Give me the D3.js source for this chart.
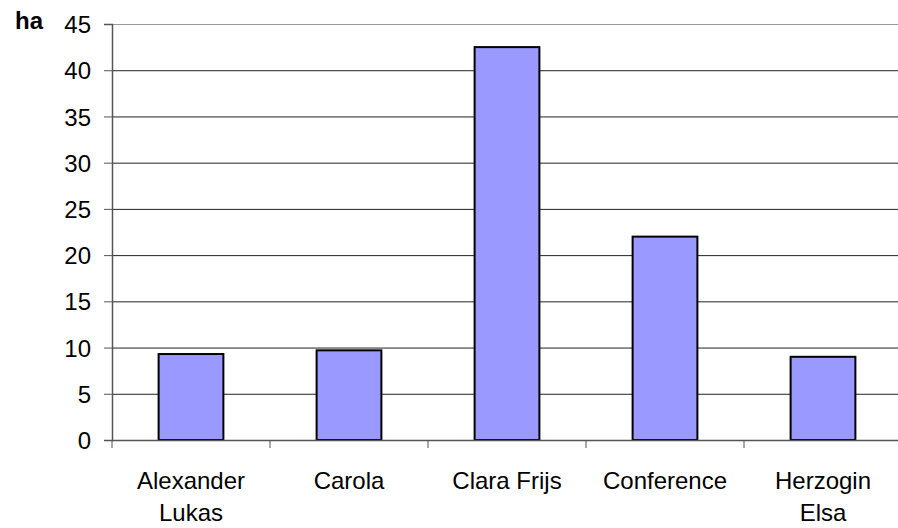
<!DOCTYPE html>
<html><head><meta charset="utf-8">
<script src="https://cdn.jsdelivr.net/npm/d3@7"></script>
<style>body{margin:0;background:#fff}svg{display:block}text{font-family:"Liberation Sans",Arial,sans-serif}</style>
</head><body>
<svg id="c" width="898" height="528"></svg>
<script>
const categories = [["Alexander","Lukas"],["Carola"],["Clara Frijs"],["Conference"],["Herzogin","Elsa"]];
const values = [9.3, 9.7, 42.5, 22.0, 9.0];
const yTicks = [0,5,10,15,20,25,30,35,40,45];

const svg = d3.select("#c");
const L = 112, R = 902, T = 24, B = 440;
const x = d3.scaleBand().domain(d3.range(categories.length)).range([L, R]).paddingInner(0.59).paddingOuter(0.295);
const xc = d3.scaleBand().domain(d3.range(categories.length)).range([L, R]);
const y = d3.scaleLinear().domain([0,45]).range([B, T]);

// gridlines
svg.append("g").selectAll("line").data(yTicks.filter(d=>d>0)).join("line")
  .attr("x1", L).attr("x2", 898).attr("y1", d=>y(d)+0.5).attr("y2", d=>y(d)+0.5)
  .attr("stroke", d=> d===45 ? "#999" : "#222").attr("stroke-width", 1);

// bars
svg.append("g").selectAll("rect").data(values).join("rect")
  .attr("x", (d,i)=>x(i)).attr("width", x.bandwidth())
  .attr("y", d=>y(d)).attr("height", d=>B - y(d))
  .attr("fill", "#9999ff").attr("stroke", "#000").attr("stroke-width", 2);

// y axis
const ya = svg.append("g").attr("transform", `translate(${L},0)`)
  .call(d3.axisLeft(y).tickValues(yTicks).tickSize(8).tickPadding(13));
ya.attr("font-size", null).attr("font-family", null);
ya.select(".domain").attr("stroke", "#555").attr("stroke-width", 1.5);
ya.selectAll(".tick line").attr("stroke", "#555");
ya.selectAll(".tick text").style("font-size", "24px").attr("fill", "#000").attr("dy", "0.36em");

// x axis
svg.append("line").attr("x1", L).attr("x2", 898).attr("y1", B+0.5).attr("y2", B+0.5).attr("stroke", "#555").attr("stroke-width", 1.5);
svg.append("g").selectAll("line").data(d3.range(categories.length+1)).join("line")
  .attr("x1", i=> i<categories.length ? xc(i) : R).attr("x2", i=> i<categories.length ? xc(i) : R)
  .attr("y1", B).attr("y2", B+8).attr("stroke", "#555").attr("stroke-width", 1);

const lbl = svg.append("g").selectAll("text").data(categories).join("text")
  .attr("x", (d,i)=>xc(i)+xc.bandwidth()/2).attr("y", 489)
  .attr("text-anchor","middle").style("font-size", "24px").attr("fill","#000");
lbl.selectAll("tspan").data(d=>d).join("tspan")
  .attr("x", function(){return d3.select(this.parentNode).attr("x");})
  .attr("dy", (d,i)=> i===0 ? 0 : 32).text(d=>d);

svg.append("text").attr("x", 15).attr("y", 29).style("font-size", "24px").attr("font-weight","bold").text("ha");
</script>
</body></html>
